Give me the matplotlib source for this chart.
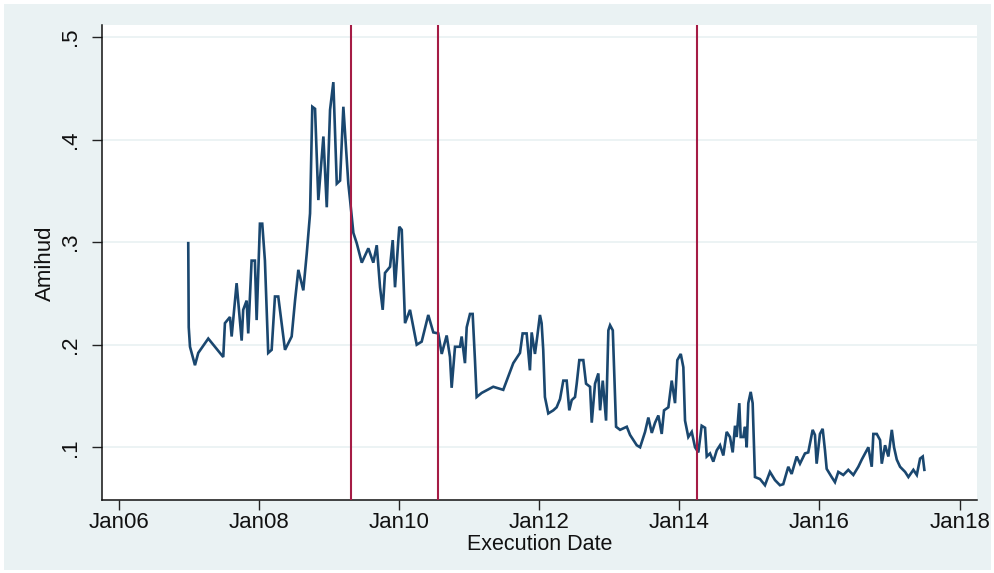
import matplotlib
matplotlib.use("Agg")
import matplotlib.pyplot as plt
import matplotlib.dates as mdates
from matplotlib.patches import Rectangle
import datetime as dt

# ---- data (decimal years and Amihud values) ----
dates_dec = [
    2006.989, 2006.996, 2007.014, 2007.085, 2007.132, 2007.275, 2007.370, 2007.489,
    2007.513, 2007.585, 2007.609, 2007.680, 2007.752, 2007.774, 2007.823, 2007.846,
    2007.894, 2007.941, 2007.966, 2008.013, 2008.046, 2008.084, 2008.131, 2008.180,
    2008.227, 2008.274, 2008.370, 2008.465, 2008.513, 2008.560, 2008.631, 2008.680,
    2008.727, 2008.759, 2008.798, 2008.845, 2008.917, 2008.965, 2009.012, 2009.059,
    2009.108, 2009.155, 2009.202, 2009.273, 2009.298, 2009.345, 2009.393, 2009.465,
    2009.559, 2009.630, 2009.679, 2009.726, 2009.764, 2009.797, 2009.869, 2009.907,
    2009.940, 2010.001, 2010.036, 2010.083, 2010.154, 2010.250, 2010.321, 2010.415,
    2010.487, 2010.558, 2010.607, 2010.678, 2010.725, 2010.749, 2010.797, 2010.868,
    2010.892, 2010.939, 2010.964, 2011.011, 2011.049, 2011.082, 2011.106, 2011.178,
    2011.343, 2011.486, 2011.629, 2011.725, 2011.763, 2011.820, 2011.867, 2011.892,
    2011.939, 2011.972, 2012.010, 2012.034, 2012.057, 2012.081, 2012.129, 2012.200,
    2012.248, 2012.296, 2012.343, 2012.391, 2012.428, 2012.463, 2012.510, 2012.534,
    2012.571, 2012.628, 2012.667, 2012.724, 2012.748, 2012.795, 2012.842, 2012.867,
    2012.905, 2012.952, 2012.985, 2013.009, 2013.048, 2013.095, 2013.152, 2013.248,
    2013.295, 2013.390, 2013.438, 2013.509, 2013.556, 2013.605, 2013.652, 2013.699,
    2013.747, 2013.780, 2013.842, 2013.890, 2013.937, 2013.970, 2014.019, 2014.056,
    2014.080, 2014.127, 2014.176, 2014.223, 2014.270, 2014.318, 2014.366, 2014.390,
    2014.437, 2014.484, 2014.533, 2014.580, 2014.627, 2014.675, 2014.722, 2014.761,
    2014.794, 2014.818, 2014.855, 2014.875, 2014.912, 2014.937, 2014.961, 2014.984,
    2015.018, 2015.046, 2015.079, 2015.151, 2015.222, 2015.293, 2015.365, 2015.436,
    2015.483, 2015.555, 2015.603, 2015.675, 2015.722, 2015.793, 2015.840, 2015.903,
    2015.936, 2015.960, 2016.007, 2016.046, 2016.079, 2016.103, 2016.174, 2016.221,
    2016.269, 2016.340, 2016.411, 2016.483, 2016.554, 2016.603, 2016.650, 2016.697,
    2016.745, 2016.768, 2016.817, 2016.864, 2016.888, 2016.935, 2016.982, 2017.031,
    2017.063, 2017.102, 2017.149, 2017.221, 2017.268, 2017.339, 2017.388, 2017.435,
    2017.473, 2017.496,
]
amihud = [
    0.299, 0.217, 0.198, 0.180, 0.192, 0.206, 0.198, 0.188,
    0.221, 0.227, 0.208, 0.260, 0.204, 0.234, 0.243, 0.211,
    0.282, 0.282, 0.224, 0.318, 0.318, 0.282, 0.192, 0.195,
    0.247, 0.247, 0.195, 0.208, 0.243, 0.273, 0.253, 0.289,
    0.328, 0.432, 0.430, 0.341, 0.403, 0.334, 0.429, 0.456,
    0.357, 0.360, 0.432, 0.357, 0.341, 0.309, 0.299, 0.280,
    0.294, 0.280, 0.297, 0.256, 0.234, 0.270, 0.276, 0.302,
    0.256, 0.315, 0.312, 0.221, 0.234, 0.200, 0.203, 0.229,
    0.212, 0.211, 0.191, 0.209, 0.188, 0.158, 0.198, 0.198,
    0.208, 0.182, 0.217, 0.230, 0.230, 0.185, 0.149, 0.153,
    0.159, 0.156, 0.182, 0.192, 0.211, 0.211, 0.175, 0.212,
    0.191, 0.208, 0.229, 0.221, 0.195, 0.149, 0.133, 0.136,
    0.139, 0.147, 0.165, 0.165, 0.136, 0.146, 0.149, 0.162,
    0.185, 0.185, 0.162, 0.159, 0.124, 0.162, 0.172, 0.136,
    0.165, 0.126, 0.214, 0.219, 0.214, 0.120, 0.117, 0.120,
    0.112, 0.102, 0.100, 0.115, 0.129, 0.114, 0.124, 0.131,
    0.113, 0.136, 0.139, 0.165, 0.143, 0.185, 0.191, 0.178,
    0.126, 0.110, 0.115, 0.100, 0.095, 0.121, 0.119, 0.091,
    0.094, 0.086, 0.097, 0.102, 0.092, 0.115, 0.110, 0.095,
    0.121, 0.110, 0.143, 0.110, 0.110, 0.120, 0.100, 0.143,
    0.154, 0.143, 0.071, 0.069, 0.063, 0.076, 0.068, 0.063,
    0.064, 0.081, 0.074, 0.091, 0.084, 0.094, 0.095, 0.117,
    0.112, 0.084, 0.113, 0.118, 0.097, 0.079, 0.071, 0.066,
    0.076, 0.073, 0.078, 0.073, 0.081, 0.088, 0.094, 0.100,
    0.081, 0.113, 0.113, 0.107, 0.084, 0.102, 0.091, 0.117,
    0.100, 0.088, 0.081, 0.076, 0.071, 0.078, 0.073, 0.089,
    0.091, 0.078,
]
event_dates = ["2009-04-26", "2010-07-20", "2014-04-01"]
y_ticks = [0.1, 0.2, 0.3, 0.4, 0.5]
y_tick_labels = [".1", ".2", ".3", ".4", ".5"]
x_tick_years = [2006, 2008, 2010, 2012, 2014, 2016, 2018]


def dec_to_date(d):
    y = int(d)
    start = dt.datetime(y, 1, 1)
    end = dt.datetime(y + 1, 1, 1)
    return start + (end - start) * (d - y)


x_dates = [dec_to_date(d) for d in dates_dec]

plt.rcParams['font.family'] = ['Liberation Sans', 'DejaVu Sans']

W, H = 995, 573
fig = plt.figure(figsize=(W / 100, H / 100), dpi=100, facecolor='white')
bg = '#EAF2F3'
fig.patches.append(Rectangle((4 / W, 3 / H), (991 - 4) / W, (569 - 3) / H,
                             transform=fig.transFigure, facecolor=bg,
                             edgecolor='none', zorder=-10))

ax = fig.add_axes([102 / W, (H - 500) / H, (977 - 102) / W, (500 - 25) / H])
ax.set_facecolor('white')

for y in y_ticks:
    ax.axhline(y, color=bg, lw=1.3, zorder=1)

ax.plot(x_dates, amihud, color='#1A476F', lw=1.9, zorder=3,
        solid_joinstyle='miter')

for d in event_dates:
    ax.axvline(dt.datetime.fromisoformat(d), color='#A51C45', lw=1.5, zorder=4)

ax.set_xlim(dec_to_date(2005.757), dec_to_date(2018.248))
ax.set_ylim(0.0486, 0.5117)

ax.set_yticks(y_ticks)
ax.set_yticklabels(y_tick_labels, rotation=90, va='center', fontsize=16)
ax.set_xticks([dt.datetime(y, 1, 1) for y in x_tick_years])
ax.xaxis.set_major_formatter(mdates.DateFormatter('%b%y'))
for lab in ax.get_xticklabels():
    lab.set_fontsize(16)

ax.tick_params(axis='both', length=7, width=1, color='#222222', labelcolor='#111111')
ax.tick_params(axis='y', pad=8)
ax.tick_params(axis='x', pad=2)

for s in ['top', 'right']:
    ax.spines[s].set_visible(False)
for s in ['left', 'bottom']:
    ax.spines[s].set_color('#111111')
    ax.spines[s].set_linewidth(1.1)

fig.text(540 / W, 1 - 545 / H, 'Execution Date', ha='center', va='center',
         fontsize=15.5, color='#111111')
fig.text(45 / W, 1 - 263 / H, 'Amihud', ha='center', va='center', rotation=90,
         fontsize=16, color='#111111')

fig.savefig('out.png', dpi=100, facecolor='white')
